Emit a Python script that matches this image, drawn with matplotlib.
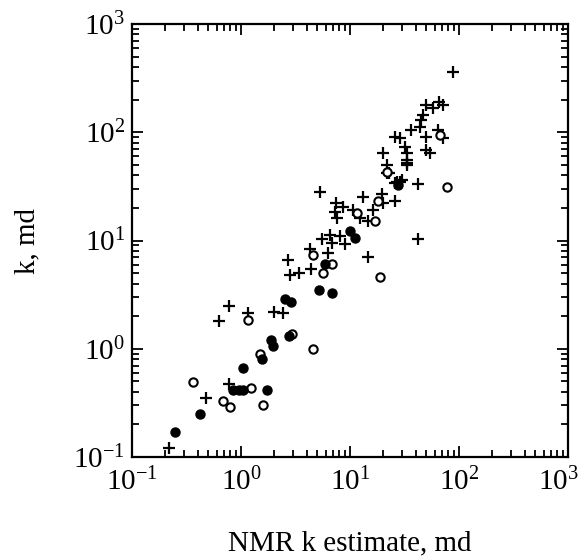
import numpy as np
import matplotlib
matplotlib.use("Agg")
import matplotlib.pyplot as plt
from matplotlib.ticker import FixedLocator, LogLocator, NullFormatter, LogFormatterSciNotation
from matplotlib.transforms import ScaledTranslation

plt.rcParams['font.family'] = ['Liberation Serif', 'DejaVu Serif']
plt.rcParams['mathtext.fontset'] = 'stix'

# NMR estimate (x) vs measured k (y), md
plus_x = [0.22, 0.48, 0.77, 0.63, 0.77, 1.15, 2.0, 2.45, 2.7, 2.8, 3.4, 4.4, 4.3, 6.3,
          14.7, 42, 5.5, 6.6, 6.8, 8.1, 9.0, 7.5, 7.3, 7.6, 8.7, 5.3, 10.7, 12.3, 13.2,
          14.7, 16.4, 19.5, 20, 26, 42, 22, 33, 23, 27, 30, 89, 50, 66, 72, 58, 47, 45,
          36, 44, 50, 64, 72, 26, 29, 32, 33, 33, 33, 50, 54, 20, 21.7, 25.7, 28.8]
plus_y = [0.12, 0.35, 0.47, 1.8, 2.5, 2.15, 2.2, 2.15, 6.6, 4.8, 5.0, 5.5, 8.3, 7.6,
          7.0, 10.3, 10.3, 11.2, 9.4, 11, 9.2, 22, 18.5, 16, 20.5, 28, 19, 16, 25,
          15, 19, 27, 22, 23, 33, 50, 52, 42, 35, 36, 360, 180, 190, 180, 166, 144, 130,
          105, 111, 91, 105, 88, 91, 88, 73, 64, 55, 50, 68, 64, 64, 42, 34, 35]

open_x = [0.36, 0.68, 0.80, 1.6, 1.48, 1.15, 4.6, 1.24, 2.95, 5.6, 6.8, 4.6, 19, 11.5,
          17, 18, 77, 67, 22]
open_y = [0.49, 0.33, 0.29, 0.30, 0.89, 1.85, 1.0, 0.43, 1.38, 5.0, 6.1, 7.3, 4.6, 17.8,
          15, 23, 31, 94, 43]

fill_x = [0.25, 0.42, 0.85, 0.95, 1.04, 1.04, 1.73, 1.56, 1.9, 1.95, 2.55, 2.9, 2.75,
          5.2, 6.9, 5.9, 10, 11.1, 27.5]
fill_y = [0.17, 0.25, 0.42, 0.42, 0.42, 0.66, 0.42, 0.80, 1.2, 1.05, 2.9, 2.7, 1.32,
          3.5, 3.3, 6.1, 12.3, 10.5, 32.6]

decades = [0.1, 1, 10, 100, 1000]

fig = plt.figure(figsize=(5.81, 5.57), dpi=100)
ax = fig.add_axes([0.2272, 0.1795, 0.7504, 0.7774])

ax.plot(plus_x, plus_y, '+', color='black', ms=8, mew=1.6)
ax.plot(open_x, open_y, 'o', mfc='white', mec='black', ms=6, mew=1.5)
ax.plot(fill_x, fill_y, 'o', color='black', ms=6.5)

ax.set_xscale('log')
ax.set_yscale('log')
ax.set_xlim(0.1, 1000)
ax.set_ylim(0.1, 1000)

for a in (ax.xaxis, ax.yaxis):
    a.set_major_locator(FixedLocator(decades))
    a.set_major_formatter(LogFormatterSciNotation())
    a.set_minor_locator(LogLocator(base=10, subs=np.arange(2, 10), numticks=20))
    a.set_minor_formatter(NullFormatter())

ax.tick_params(which='both', direction='in', top=True, right=True, width=1.3)
ax.tick_params(which='major', length=8, labelsize=21)
ax.tick_params(which='minor', length=5)
ax.tick_params(axis='x', which='major', pad=8)
ax.tick_params(axis='y', which='major', pad=5)
for s in ax.spines.values():
    s.set_linewidth(1.6)

ax.set_xlabel('NMR k estimate, md', fontsize=21, labelpad=24)
ax.set_ylabel('k, md', fontsize=21, labelpad=24)

# last x label sits flush against the right edge like the original
last = ax.xaxis.get_major_ticks()[len(decades) - 1].label1
last.set_transform(last.get_transform() + ScaledTranslation(-10 / 100, 0, fig.dpi_scale_trans))

fig.savefig('out.png', dpi=100)
